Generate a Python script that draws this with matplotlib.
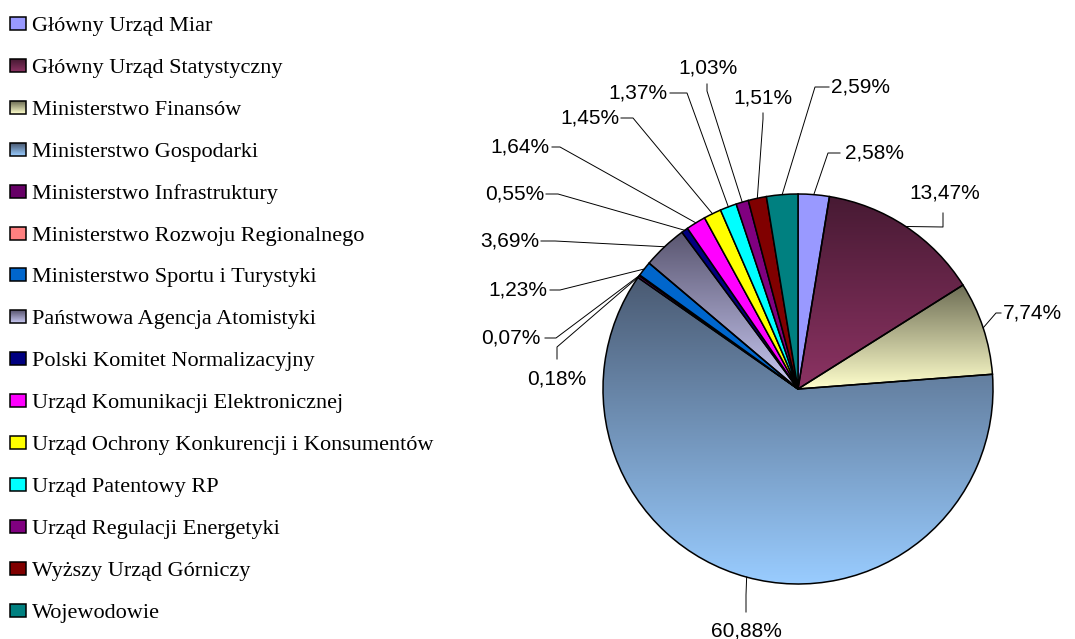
import numpy as np
import matplotlib
matplotlib.use('Agg')
import matplotlib.pyplot as plt
from matplotlib.patches import Rectangle
from matplotlib.colors import to_rgb

# data
names = ['Główny Urząd Miar', 'Główny Urząd Statystyczny', 'Ministerstwo Finansów',
         'Ministerstwo Gospodarki', 'Ministerstwo Infrastruktury',
         'Ministerstwo Rozwoju Regionalnego', 'Ministerstwo Sportu i Turystyki',
         'Państwowa Agencja Atomistyki', 'Polski Komitet Normalizacyjny',
         'Urząd Komunikacji Elektronicznej', 'Urząd Ochrony Konkurencji i Konsumentów',
         'Urząd Patentowy RP', 'Urząd Regulacji Energetyki', 'Wyższy Urząd Górniczy',
         'Wojewodowie']
shares = [2.58, 13.47, 7.74, 60.88, 0.18, 0.07, 1.23, 3.69, 0.55, 1.64, 1.45, 1.37, 1.03, 1.51, 2.59]

colors = ['#9999ff', '#993366', '#ffffcc', '#99ccff', '#660066', '#ff8080', '#0066cc',
          '#ccccff', '#000080', '#ff00ff', '#ffff00', '#00ffff', '#800080', '#800000', '#008080']
# slices with a vertical gradient fill: index -> (top colour, bottom colour)
gradients = {1: ('#471a33', '#8c3363'), 2: ('#6e6e55', '#ffffcc'),
             3: ('#4a5a72', '#99ccff'), 7: ('#5a5670', '#c8c8f2')}

# label layout (pixels): text x, text y, ha, leader elbow, leader end
label_layout = [
    (845, 153, 'left', (828, 153), (840, 153)),
    (945, 193, 'center', (943, 227), (943, 213)),
    (1003, 313, 'left', (996, 313), (1001, 313)),
    (746, 631, 'center', (746, 595), (746, 612)),
    (557, 379, 'center', (557, 347), (557, 359)),
    (541, 338, 'right', (556, 338), (545, 338)),
    (547, 290, 'right', (560, 290), (550, 290)),
    (539, 241, 'right', (555, 241), (541, 241)),
    (544, 194, 'right', (558, 194), (546, 194)),
    (550, 147, 'right', (560, 147), (552, 147)),
    (619, 118, 'right', (633, 118), (621, 118)),
    (668, 93, 'right', (687, 93), (670, 93)),
    (708, 68, 'center', (707, 91), (707, 84)),
    (763, 98, 'center', (763, 119), (763, 113)),
    (831, 87, 'left', (815, 87), (829, 87)),
]


def grad_img(c0, c1, n=200):
    t = np.linspace(0, 1, n)[:, None]
    rgb = (1 - t) * np.array(to_rgb(c0)) + t * np.array(to_rgb(c1))
    return rgb[:, None, :]


fig = plt.figure(figsize=(10.75, 6.39), dpi=100)
ax = fig.add_axes([0, 0, 1, 1])

cx, cy, R = 798, 389, 195
wedges, _ = ax.pie(shares, colors=colors, startangle=-90, counterclock=True,
                   center=(cx, cy), radius=R,
                   wedgeprops=dict(edgecolor='black', linewidth=1.1))

for i, (c0, c1) in gradients.items():
    w = wedges[i]
    ext = w.get_path().get_extents()
    img = ax.imshow(grad_img(c0, c1), extent=(ext.x0, ext.x1, ext.y1, ext.y0),
                    origin='upper', aspect='auto', interpolation='bilinear', zorder=0.5)
    img.set_clip_path(w)
    w.set_facecolor('none')

# percentage labels with leader lines
for w, v, (tx, ty, ha, elb, end) in zip(wedges, shares, label_layout):
    mid = np.deg2rad((w.theta1 + w.theta2) / 2)
    axp = cx + R * np.cos(mid)
    ayp = cy + R * np.sin(mid)
    ax.plot([axp, elb[0], end[0]], [ayp, elb[1], end[1]], color='black', lw=0.7, zorder=3)
    txt = f'{v:.2f}'.replace('.', ',') + '%'
    ax.text(tx, ty, txt, ha=ha, va='center', fontsize=15, family='Liberation Sans')

# legend
for i, (name, col) in enumerate(zip(names, colors)):
    base = 31 + 41.9 * i
    if i in gradients:
        c0, c1 = gradients[i]
        ax.imshow(grad_img(c0, c1, 20), extent=(10, 26, base - 1, base - 14),
                  origin='upper', aspect='auto', zorder=1)
        ax.add_patch(Rectangle((10, base - 14), 16, 13, facecolor='none',
                               edgecolor='black', lw=1.1, zorder=2))
    else:
        ax.add_patch(Rectangle((10, base - 14), 16, 13, facecolor=col,
                               edgecolor='black', lw=1.1, zorder=2))
    ax.text(32, base, name, ha='left', va='baseline', fontsize=16, family='Liberation Serif')

ax.set_xlim(0, 1075)
ax.set_ylim(639, 0)
ax.axis('off')

plt.savefig('out.png', dpi=100)
